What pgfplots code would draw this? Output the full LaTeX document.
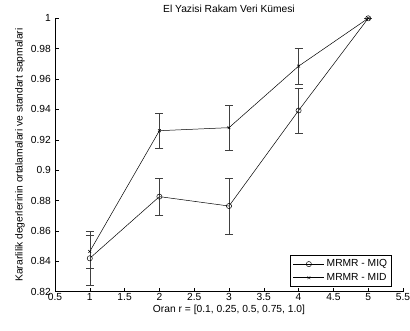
\documentclass[border=0pt]{standalone}
\usepackage{pgfplots}
\pgfplotsset{compat=1.18}
\usepackage{fontspec}
\setmainfont{Liberation Sans}
\begin{document}
\fontsize{10.3}{12}\selectfont
\begin{tikzpicture}
\path[use as bounding box] (0,0) rectangle (410bp,331bp);
\begin{axis}[
  at={(55bp,39.3bp)}, anchor=south west,
  scale only axis, width=348bp, height=273.4bp,
  xmin=0.5, xmax=5.5, ymin=0.82, ymax=1.0,
  xtick={0.5,1,...,5.5}, ytick={0.82,0.84,...,1.001},
  axis x line*=bottom, axis y line*=left,
  axis line style={-, line width=0.5pt},
  tick align=inside, major tick length=4bp,
  tick style={black, line width=0.5pt},
  /pgf/number format/assume math mode=true,
  /pgf/number format/precision=2,
  yticklabel style={/pgf/number format/fixed, /pgf/number format/precision=2, xshift=-0.5bp},
  xticklabel style={/pgf/number format/fixed, yshift=1.5bp},
  ticklabel style={font=\fontsize{10.3}{12}\selectfont},
  title={El Yazisi Rakam Veri Kümesi},
  title style={font=\fontsize{10.3}{12}\selectfont, yshift=-4bp},
  xlabel={Oran r = [0.1, 0.25, 0.5, 0.75, 1.0]},
  ylabel={Kararlilik degerlerinin ortalamalari ve standart sapmalari},
  label style={font=\fontsize{10.3}{12}\selectfont},
  xlabel style={yshift=3bp},
  ylabel style={yshift=-1bp},
  legend style={at={(0.968,0.018)}, anchor=south east, draw=black, line width=0.5pt,
    font=\fontsize{10.3}{12}\selectfont, row sep=1bp, inner sep=2.5bp},
  legend cell align=left,
  legend image code/.code={\draw[mark repeat=2,mark phase=2,#1] plot coordinates {(0cm,0cm)(0.55cm,0cm)(1.1cm,0cm)};},
  every axis plot/.append style={line width=0.5pt},
]
\addplot+[black, mark=o, mark size=2.6bp, mark options={solid, black},
  error bars/.cd, y dir=both, y explicit, error mark options={rotate=90, mark size=4bp, black!75}, error bar style={black!75}]
  coordinates {
  (1,0.842) +- (0,0.018)
  (2,0.8826) +- (0,0.012)
  (3,0.8764) +- (0,0.0183)
  (4,0.9393) +- (0,0.0148)
  (5,1.0) +- (0,0)
};
\addlegendentry{MRMR - MIQ}
\addplot+[black, mark=x, mark size=2bp, mark options={solid, black},
  error bars/.cd, y dir=both, y explicit, error mark options={rotate=90, mark size=4bp, black!75}, error bar style={black!75}]
  coordinates {
  (1,0.8465) +- (0,0.0108)
  (2,0.926) +- (0,0.0118)
  (3,0.928) +- (0,0.0146)
  (4,0.9685) +- (0,0.0117)
  (5,1.0) +- (0,0)
};
\addlegendentry{MRMR - MID}
\end{axis}
\end{tikzpicture}
\end{document}
